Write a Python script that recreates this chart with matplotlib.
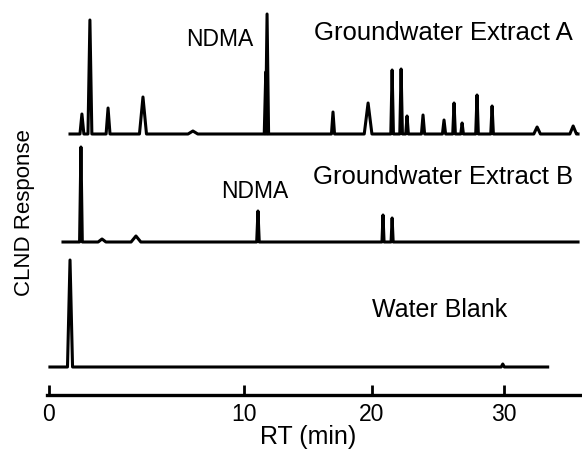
import matplotlib
matplotlib.use("Agg")
import matplotlib.pyplot as plt
import numpy as np

plt.rcParams['font.family'] = ['Liberation Sans', 'DejaVu Sans']

# peak retention times (min) and heights (response units)
a_rt = [1.69, 2.10, 3.03, 4.82, 7.38, 11.70, 11.80, 16.95, 19.69, 21.52, 22.20, 22.65,
        23.86, 25.45, 26.21, 26.82, 27.95, 29.09, 32.5, 35.23]
a_height = [20, 114, 26, 37, 3, 62, 120, 22, 31, 64, 65, 18, 19, 14, 31, 11, 39, 28, 7, 8]
a_width = [0.10, 0.10, 0.10, 0.18, 0.25, 0.12, 0.12, 0.12, 0.3, 0.10, 0.10, 0.10,
           0.12, 0.12, 0.10, 0.10, 0.10, 0.10, 0.25, 0.25]

b_rt = [1.64, 2.72, 4.46, 11.09, 20.83, 21.52]
b_height = [95, 3, 6, 31, 27, 24]
b_width = [0.07, 0.2, 0.25, 0.1, 0.08, 0.08]

blank_rt = [1.08, 29.9]
blank_height = [107, 3]
blank_width = [0.13, 0.12]

# run range of each trace (min) and its baseline offset
a_span, b_span, blank_span = (1.08, 35.6), (0.72, 35.6), (0.05, 33.3)
a_base, b_base, blank_base = 261, 153, 28

# the printed time axis is not evenly spaced: tick marks sit at these positions
tick_rt = [-5, 0, 10, 20, 30, 40]
tick_pos = [-48.5, 49, 244, 372, 504, 636]


def fwd(x):
    return np.interp(x, tick_rt, tick_pos)


def inv(x):
    return np.interp(x, tick_pos, tick_rt)


def trace(span, rts, heights, widths, base):
    xs = [span[0]]
    ys = [base]
    for rt, h, w in zip(rts, heights, widths):
        xs += [rt - w, rt, rt + w]
        ys += [base, base + h, base]
    xs.append(span[1])
    ys.append(base)
    return xs, ys


fig = plt.figure(figsize=(5.82, 4.55), dpi=100)
ax = fig.add_axes([47 / 582, 1 - 395 / 455, 535 / 582, 395 / 455])
ax.set_xscale('function', functions=(fwd, inv))

for span, rts, hs, ws, base in [(a_span, a_rt, a_height, a_width, a_base),
                                (b_span, b_rt, b_height, b_width, b_base),
                                (blank_span, blank_rt, blank_height, blank_width, blank_base)]:
    x, y = trace(span, rts, hs, ws, base)
    ax.plot(x, y, color='black', lw=2.2, solid_joinstyle='round')

ax.set_xlim(-0.1, 35.9)
ax.set_ylim(0, 395)
ax.set_xticks([0, 10, 20, 30])
ax.set_yticks([])
for s in ['left', 'right', 'top']:
    ax.spines[s].set_visible(False)
ax.spines['bottom'].set_linewidth(2.4)
ax.tick_params(axis='x', direction='in', length=7, width=2, labelsize=16.5, pad=6)

fig.text(308 / 582, 1 - 437 / 455, 'RT (min)', fontsize=18, ha='center', va='center')

ax.text(8.77, 355, 'NDMA', fontsize=16.5, ha='center', va='center')
ax.text(25.38, 362, 'Groundwater Extract A', fontsize=18.5, ha='center', va='center')
ax.text(10.86, 203, 'NDMA', fontsize=16.5, ha='center', va='center')
ax.text(25.38, 218, 'Groundwater Extract B', fontsize=18.5, ha='center', va='center')
ax.text(25.15, 85, 'Water Blank', fontsize=18, ha='center', va='center')

fig.text(25 / 582, 1 - 213 / 455, 'CLND Response', rotation=90, fontsize=16,
         ha='center', va='center')

fig.savefig('out.png', dpi=100)
